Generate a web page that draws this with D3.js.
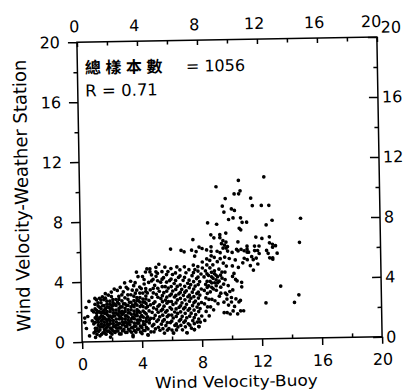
<!DOCTYPE html>
<html><head><meta charset="utf-8">
<script src="https://cdn.jsdelivr.net/npm/d3@7"></script>
<style>body{margin:0;background:#fff}svg{display:block}</style>
</head><body>
<svg id="c" width="403" height="392"></svg>
<script>
const xTicks = [0, 4, 8, 12, 16, 20];
const yTicks = [0, 4, 8, 12, 16, 20];
const minorTicks = [2, 6, 10, 14, 18];
const xTitle = "Wind Velocity-Buoy";
const yTitle = "Wind Velocity-Weather Station";
const noteLabel = "總樣本數";
const noteCount = "= 1056";
const noteR = "R = 0.71";

// [buoy wind velocity, weather-station wind velocity]
const samples = [
[0.5,0.4],[0.3,0.9],[0.2,1.3],[0.2,1.6],[0.4,1.7],[0.7,2.1],[0.3,2.3],[0.5,2.7],[0.9,2.9],[1.2,2.9],[1.4,3.0],[1.6,3.2],
[0.8,0.6],[0.8,1.2],[0.9,1.6],[0.8,2.0],[0.9,2.5],[0.7,1.4],[0.9,0.9],
[1.0,0.5],[1.0,0.9],[1.1,1.3],[1.0,1.7],[1.0,2.1],[1.1,2.4],[1.0,2.8],[1.1,1.1],[1.0,1.5],
[1.2,0.4],[1.2,0.8],[1.3,1.2],[1.2,1.6],[1.3,1.9],[1.2,2.3],[1.3,2.6],[1.2,1.0],[1.2,2.0],[1.3,1.4],
[1.4,0.6],[1.4,1.0],[1.5,1.3],[1.4,1.7],[1.5,2.1],[1.4,2.4],[1.5,2.8],[1.4,1.5],[1.5,0.8],[1.4,2.0],
[1.6,0.5],[1.6,0.9],[1.7,1.2],[1.6,1.5],[1.7,1.8],[1.6,2.2],[1.7,2.5],[1.6,2.9],[1.7,1.0],[1.6,1.9],
[1.8,0.7],[1.8,1.1],[1.9,1.4],[1.8,1.7],[1.9,2.0],[1.8,2.3],[1.9,2.7],[1.8,3.1],[1.9,0.9],[1.8,1.5],
[2.0,0.5],[2.0,0.8],[2.1,1.2],[2.0,1.6],[2.1,1.9],[2.0,2.2],[2.1,2.6],[2.0,3.0],[2.1,1.4],[2.0,2.4],
[2.2,0.6],[2.2,1.0],[2.3,1.3],[2.2,1.7],[2.3,2.1],[2.2,2.5],[2.3,2.8],[2.2,1.9],[2.3,0.9],
[2.4,0.7],[2.4,1.1],[2.5,1.5],[2.4,1.8],[2.5,2.2],[2.4,2.6],[2.5,3.0],[2.4,3.4],[2.5,1.2],
[2.6,0.5],[2.6,0.9],[2.7,1.3],[2.6,1.6],[2.7,2.0],[2.6,2.3],[2.7,2.7],[2.6,1.9],
[2.8,0.8],[2.8,1.2],[2.9,1.5],[2.8,1.9],[2.9,2.2],[2.8,2.5],[2.9,2.9],[2.8,3.3],[2.9,1.0],
[3.0,0.6],[3.0,1.0],[3.1,1.4],[3.0,1.7],[3.1,2.1],[3.0,2.4],[3.1,2.8],[3.0,3.6],[3.0,1.2],
[3.2,0.7],[3.2,1.1],[3.3,1.5],[3.2,1.9],[3.3,2.3],[3.2,2.6],[3.3,3.1],[3.2,1.3],
[3.4,0.4],[3.4,0.9],[3.5,1.2],[3.4,1.6],[3.5,2.0],[3.4,2.4],[3.5,2.7],[3.4,3.4],[3.5,1.8],
[3.6,0.6],[3.6,1.0],[3.7,1.4],[3.6,1.7],[3.7,2.1],[3.6,2.5],[3.7,2.9],[3.6,3.9],[3.7,1.2],
[3.8,0.8],[3.8,1.2],[3.9,1.6],[3.8,2.0],[3.9,2.3],[3.8,2.7],[3.9,3.2],[3.8,4.3],[3.8,1.4],
[4.0,0.5],[4.0,0.9],[4.1,1.3],[4.0,1.7],[4.1,2.0],[4.0,2.4],[4.1,2.8],[4.0,3.5],[4.1,1.1],
[4.2,0.7],[4.2,1.1],[4.3,1.5],[4.2,1.9],[4.3,2.2],[4.2,2.6],[4.3,3.0],[4.2,3.8],[4.2,4.1],
[4.4,0.4],[4.4,0.8],[4.5,1.2],[4.4,1.6],[4.5,2.0],[4.4,2.3],[4.5,2.7],[4.4,3.2],[4.4,4.8],[4.5,1.4],
[0.9,0.7],[0.9,1.3],[1.0,1.9],[0.9,2.2],[1.1,0.7],[1.1,1.5],[1.1,2.0],[1.1,2.6],
[1.3,0.5],[1.3,1.0],[1.3,1.7],[1.3,2.2],[1.3,2.8],[1.5,0.6],[1.5,1.1],[1.5,1.6],[1.5,1.9],[1.5,2.4],
[1.7,0.7],[1.7,1.4],[1.7,2.0],[1.7,2.3],[1.7,2.7],[1.9,0.6],[1.9,1.2],[1.9,1.7],[1.9,2.2],[1.9,2.5],
[2.1,0.7],[2.1,1.0],[2.1,1.7],[2.1,2.1],[2.1,2.4],[2.1,2.8],[2.3,0.7],[2.3,1.1],[2.3,1.5],[2.3,1.9],[2.3,2.4],
[2.5,0.5],[2.5,0.9],[2.5,1.7],[2.5,2.0],[2.5,2.5],[2.5,2.8],[2.7,0.7],[2.7,1.1],[2.7,1.5],[2.7,1.8],[2.7,2.3],
[2.9,0.6],[2.9,1.3],[2.9,1.7],[2.9,2.0],[2.9,2.5],[3.1,0.8],[3.1,1.2],[3.1,1.6],[3.1,1.9],[3.1,2.4],[3.1,3.1],
[3.3,0.6],[3.3,0.9],[3.3,1.3],[3.3,1.8],[3.3,2.1],[3.3,2.6],[3.5,0.7],[3.5,1.0],[3.5,1.5],[3.5,2.3],[3.5,3.0],
[3.7,0.8],[3.7,1.7],[3.7,1.9],[3.7,2.4],[3.7,2.7],[3.7,3.4],[3.9,0.6],[3.9,1.0],[3.9,1.4],[3.9,1.9],[3.9,2.6],[3.9,2.9],
[4.1,0.7],[4.1,1.6],[4.1,2.3],[4.1,2.6],[4.1,3.2],[4.3,0.9],[4.3,1.3],[4.3,1.8],[4.3,2.5],[4.3,2.8],[4.3,3.3],
[2.0,3.3],[2.2,3.5],[2.6,3.6],[2.9,3.9],[3.1,3.5],[3.3,4.0],[3.5,3.7],[3.7,4.6],[3.9,3.6],[4.1,4.3],[4.3,3.5],[4.5,3.9],[4.7,4.4],[4.3,4.6],[3.6,3.2],[2.7,3.1],
[4.6,0.6],[4.7,1.0],[4.6,1.5],[4.7,1.9],[4.6,2.4],[4.7,2.9],[4.6,3.4],[4.7,4.0],[4.6,4.6],
[4.9,0.8],[5.0,1.3],[4.9,1.7],[5.0,2.1],[4.9,2.6],[5.0,3.1],[4.9,3.7],[5.0,4.3],[5.0,4.9],
[5.2,0.7],[5.3,1.1],[5.2,1.6],[5.3,2.0],[5.2,2.4],[5.3,2.8],[5.2,3.3],[5.3,3.9],[5.2,5.1],
[5.5,0.5],[5.6,1.0],[5.5,1.4],[5.6,1.9],[5.5,2.3],[5.6,2.7],[5.5,3.2],[5.6,3.6],[5.5,4.2],[5.6,4.9],
[5.8,0.8],[5.9,1.2],[5.8,1.7],[5.9,2.2],[5.8,2.6],[5.9,3.0],[5.8,3.5],[5.9,4.0],[5.8,4.6],
[6.1,0.5],[6.2,1.0],[6.1,1.5],[6.2,1.9],[6.1,2.4],[6.2,2.9],[6.1,3.3],[6.2,3.8],[6.1,4.4],
[6.4,0.9],[6.5,1.3],[6.4,1.8],[6.5,2.2],[6.4,2.7],[6.5,3.1],[6.4,3.6],[6.5,4.2],[6.4,4.9],
[6.7,0.7],[6.8,1.2],[6.7,1.6],[6.8,2.1],[6.7,2.5],[6.8,3.0],[6.7,3.4],[6.8,4.0],
[7.0,0.5],[7.1,1.1],[7.0,1.5],[7.1,2.0],[7.0,2.4],[7.1,2.9],[7.0,3.3],[7.1,3.8],[7.0,4.5],
[7.3,0.8],[7.4,1.3],[7.3,1.8],[7.4,2.3],[7.3,2.8],[7.4,3.2],[7.3,3.7],[7.4,4.3],
[7.5,0.7],[7.7,1.2],[7.6,1.7],[7.7,2.2],[7.6,2.6],[7.7,3.1],[7.6,3.6],[7.7,4.1],[7.6,4.7],[7.6,5.6],
[7.8,0.9],[7.9,1.2],[8.0,1.6],[7.9,2.1],[8.0,2.5],[7.9,3.0],[8.0,3.4],[7.9,3.9],[8.0,4.4],[8.1,5.2],
[4.8,0.6],[4.8,1.1],[4.8,1.5],[4.8,2.2],[4.8,2.5],[4.8,3.2],[4.8,3.5],[4.8,4.1],
[5.1,0.9],[5.1,1.4],[5.1,1.9],[5.1,2.3],[5.1,2.9],[5.1,3.5],[5.1,4.0],[5.1,4.5],
[5.4,0.8],[5.4,1.3],[5.4,1.7],[5.4,2.1],[5.4,2.6],[5.4,3.0],[5.4,3.6],[5.4,4.1],
[5.7,0.7],[5.7,1.2],[5.7,1.6],[5.7,2.0],[5.7,2.5],[5.7,2.9],[5.7,3.3],[5.7,3.9],
[6.0,0.7],[6.0,1.3],[6.0,1.7],[6.0,2.1],[6.0,2.6],[6.0,3.1],[6.0,3.6],[6.0,4.1],
[6.3,0.7],[6.3,1.1],[6.3,1.6],[6.3,2.1],[6.3,2.5],[6.3,3.0],[6.3,3.4],[6.3,4.0],
[6.6,1.0],[6.6,1.4],[6.6,1.9],[6.6,2.3],[6.6,2.8],[6.6,3.2],[6.6,3.7],[6.6,4.3],
[6.9,0.9],[6.9,1.3],[6.9,1.8],[6.9,2.2],[6.9,2.7],[6.9,3.2],[6.9,3.6],[6.9,4.2],
[7.2,1.0],[7.2,1.6],[7.2,2.1],[7.2,2.6],[7.2,3.0],[7.2,3.5],[7.2,4.0],
[7.5,1.1],[7.5,1.5],[7.5,2.0],[7.5,2.5],[7.5,2.9],[7.5,3.4],[7.5,3.9],[7.5,4.5],
[7.8,1.4],[7.8,1.9],[7.8,2.4],[7.8,2.8],[7.8,3.2],[7.8,3.7],[7.8,4.2],[7.8,4.6],
[5.4,4.6],[5.7,4.4],[6.0,4.8],[6.3,4.5],[6.6,4.7],[6.9,4.9],[7.2,4.7],[7.5,5.0],[7.8,4.9],[8.1,4.8],
[4.6,4.8],[5.0,4.6],[8.7,5.6],[8.4,5.4],
[8.2,1.3],[8.3,1.9],[8.2,2.4],[8.3,2.8],[8.2,3.3],[8.3,3.7],[8.2,4.2],[8.3,4.6],[8.4,6.0],
[8.5,1.6],[8.6,2.2],[8.5,2.7],[8.6,3.2],[8.5,3.6],[8.6,3.9],[8.5,4.3],[8.6,4.8],
[8.8,2.0],[8.9,2.6],[8.8,3.4],[8.9,3.8],[8.8,4.1],[8.9,4.4],[8.8,5.0],[9.0,3.6],[9.0,4.0],[9.1,4.2],
[9.2,2.9],[9.3,3.5],[9.2,3.9],[9.3,4.3],[9.2,4.7],[9.3,5.8],
[9.5,1.8],[9.5,2.5],[9.6,3.1],[9.5,3.7],[9.6,4.5],[9.5,5.1],[9.6,5.5],
[9.7,1.8],[9.8,2.3],[9.7,3.0],[9.8,3.6],[9.7,4.9],[9.9,5.4],
[8.4,3.5],[8.4,3.9],[8.4,4.4],[8.7,3.5],[8.7,3.8],[8.7,4.2],[8.7,4.5],[9.0,3.3],[9.0,4.3],[9.1,3.8],[8.9,4.6],
[8.4,2.2],[8.7,2.7],[8.4,3.1],[9.1,2.4],[9.3,3.1],[9.4,4.1],[9.4,4.5],[9.1,5.2],[8.6,5.3],[8.9,5.5],[8.4,5.0],[9.3,5.4],[9.6,4.0],
[10.1,1.9],[10.0,2.8],[10.1,3.3],[9.9,3.2],[10.2,4.4],[10.1,4.9],[9.7,2.7],[10.0,2.5],[10.2,2.2],
[0.9,0.3],[1.9,0.3],[3.4,0.3],[4.4,0.4],[6.1,0.5],[7.0,0.5],[7.5,0.7],[7.8,0.9],
[9.1,10.2],[10.6,10.6],[12.3,10.8],[10.3,9.7],[10.6,9.7],[10.7,9.9],[9.7,9.4],[11.4,9.4],[9.5,8.9],[11.5,8.9],[12.1,8.9],[12.6,8.9],
[10.1,8.7],[9.6,8.5],[10.3,8.6],[9.9,8.0],[10.2,8.1],[10.7,8.1],[8.5,7.8],[9.1,7.7],[10.8,7.8],[11.1,7.8],[14.7,8.0],[12.8,7.9],[12.4,7.6],
[10.6,7.4],[10.7,7.3],[8.7,7.0],[9.3,7.0],[9.7,7.1],[8.9,6.8],[9.3,6.8],[9.5,6.6],[9.4,6.4],[9.6,6.3],[9.7,6.1],[9.5,6.1],[9.8,5.9],
[11.7,6.8],[12.1,6.7],[12.6,6.8],[12.8,6.3],[13.0,6.2],[12.6,6.4],[7.5,6.7],[14.6,6.4],[10.5,6.5],
[6.0,6.1],[6.7,6.0],[6.9,5.9],[7.9,6.2],[7.4,6.0],[7.7,5.9],[8.1,6.1],[8.7,5.9],[8.7,6.2],[9.1,5.9],[9.7,6.5],[9.8,6.2],
[11.1,6.2],[11.1,6.0],[11.6,6.2],[11.9,6.2],[12.8,6.1],[10.4,6.0],[10.7,6.0],[10.5,5.9],
[10.9,5.9],[11.1,5.8],[11.2,5.8],[11.4,5.5],[11.5,5.3],[10.9,5.4],[11.1,5.3],[11.3,4.9],[10.8,5.1],[10.5,4.8],[10.3,5.3],[10.1,5.8],
[11.6,5.9],[11.8,5.9],[11.9,5.7],[12.4,5.9],[12.5,5.7],[12.8,5.4],[13.1,5.7],[12.6,5.4],[12.8,5.3],[11.7,5.4],[11.8,5.0],[11.5,4.6],
[10.1,4.2],[10.3,4.0],[10.4,3.9],[10.7,3.8],[10.7,3.5],[10.3,2.7],[10.5,2.5],[10.6,2.6],[10.8,1.9],[10.4,1.7],[9.9,1.7],[10.6,1.9],
[13.3,3.5],[12.3,2.4],[14.2,2.4],[14.5,2.9]
];

const W = 403, H = 392;
const plot = {left: 79.5, right: 379.5, top: 39.5, bottom: 339.5};
const fontFamily = "'DejaVu Sans', sans-serif";

const svg = d3.select("#c");
svg.append("rect").attr("width", W).attr("height", H).attr("fill", "#fff");
const g = svg.append("g").attr("transform", "rotate(-1, 229.5, 189)");

const x = d3.scaleLinear().domain([0, 20]).range([plot.left, plot.right]);
const y = d3.scaleLinear().domain([0, 20]).range([plot.bottom, plot.top]);

function styleAxis(sel) {
  sel.select(".domain").remove();
  sel.selectAll("line").attr("stroke", "#000").attr("stroke-width", 1.5);
  sel.attr("font-family", fontFamily).attr("font-size", 16);
  sel.selectAll("text").attr("fill", "#000");
}

// bottom: majors outward, minors inward
g.append("g").attr("transform", `translate(0,${plot.bottom})`)
  .call(d3.axisBottom(x).tickValues(xTicks).tickSize(7).tickPadding(9.5)).call(styleAxis);
g.append("g").attr("transform", `translate(0,${plot.bottom})`)
  .call(d3.axisBottom(x).tickValues(minorTicks).tickSize(-4).tickFormat("")).call(styleAxis);

// top: ticks inward
const topAxis = g.append("g").attr("transform", `translate(0,${plot.top})`)
  .call(d3.axisTop(x).tickValues(xTicks).tickSize(-5).tickPadding(10)).call(styleAxis);
topAxis.selectAll("text").attr("dx", d => d === 20 ? -6 : -3);
g.append("g").attr("transform", `translate(0,${plot.top})`)
  .call(d3.axisTop(x).tickValues(minorTicks).tickSize(-4).tickFormat("")).call(styleAxis);

// left: ticks outward
g.append("g").attr("transform", `translate(${plot.left},0)`)
  .call(d3.axisLeft(y).tickValues(yTicks).tickSize(9).tickPadding(8)).call(styleAxis);
g.append("g").attr("transform", `translate(${plot.left},0)`)
  .call(d3.axisLeft(y).tickValues(minorTicks).tickSize(4).tickFormat("")).call(styleAxis);

// right: ticks inward
const rightAxis = g.append("g").attr("transform", `translate(${plot.right},0)`)
  .call(d3.axisRight(y).tickValues(yTicks).tickSize(-9).tickPadding(4)).call(styleAxis);
rightAxis.selectAll(".tick").filter(d => d === 20).select("text").attr("dy", "-0.28em");
g.append("g").attr("transform", `translate(${plot.right},0)`)
  .call(d3.axisRight(y).tickValues(minorTicks).tickSize(-4).tickFormat("")).call(styleAxis);

// frame
g.append("rect")
  .attr("x", plot.left).attr("y", plot.top)
  .attr("width", plot.right - plot.left).attr("height", plot.bottom - plot.top)
  .attr("fill", "none").attr("stroke", "#000").attr("stroke-width", 1.5);

// points
g.append("g").selectAll("circle").data(samples).join("circle")
  .attr("cx", d => x(d[0])).attr("cy", d => y(d[1]))
  .attr("r", 1.85).attr("fill", "#000");

// annotations
const note = g.append("text").attr("font-family", fontFamily).attr("font-size", 16).attr("fill", "#000")
  .attr("y", 71);
note.append("tspan").attr("x", 87).attr("font-family", "'Noto Sans CJK TC', 'Noto Sans CJK SC', sans-serif")
  .attr("font-weight", 700).attr("letter-spacing", 4.5).text(noteLabel);
note.append("tspan").attr("x", 188).text(noteCount);
g.append("text").attr("font-family", fontFamily).attr("font-size", 16.5).attr("fill", "#000")
  .attr("x", 87).attr("y", 94).text(noteR);

// axis titles
g.append("text").attr("font-family", fontFamily).attr("font-size", 15.5).attr("fill", "#000")
  .attr("text-anchor", "middle").attr("x", 233).attr("y", 387)
  .attr("textLength", 163).attr("lengthAdjust", "spacingAndGlyphs").text(xTitle);
g.append("text").attr("font-family", fontFamily).attr("font-size", 16).attr("fill", "#000")
  .attr("text-anchor", "middle")
  .attr("transform", "translate(28,192) scale(1.15,1) rotate(-90)")
  .attr("textLength", 272).attr("lengthAdjust", "spacingAndGlyphs").text(yTitle);
</script>
</body></html>
